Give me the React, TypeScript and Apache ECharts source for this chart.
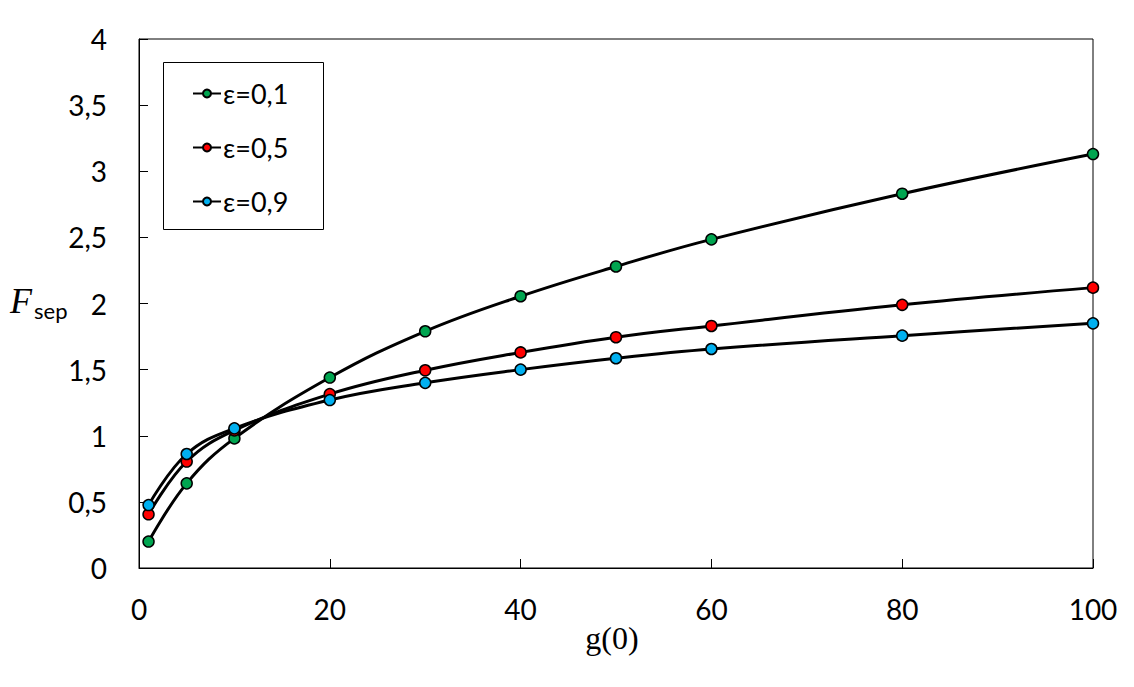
import React, { useEffect, useRef } from "react";
import * as echarts from "echarts";

const gValues = [1, 5, 10, 20, 30, 40, 50, 60, 80, 100];
const eps01 = [0.2, 0.64, 0.98, 1.44, 1.79, 2.055, 2.28, 2.485, 2.83, 3.13];
const eps05 = [0.406, 0.805, 1.04, 1.315, 1.495, 1.63, 1.745, 1.83, 1.99, 2.12];
const eps09 = [0.476, 0.862, 1.056, 1.27, 1.40, 1.50, 1.586, 1.656, 1.757, 1.85];
const seriesNames = ["ε=0,1", "ε=0,5", "ε=0,9"];
const markerColors = ["#00A550", "#FF0000", "#00B0F0"];

const FONT = "Lato, 'Open Sans', sans-serif";

export default function App() {
  const ref = useRef<HTMLDivElement>(null);
  useEffect(() => {
    document.body.style.margin = "0";
    if (!ref.current) return;
    const chart = echarts.init(ref.current, null, { renderer: "svg" });
    const all = [eps01, eps05, eps09];
    const series = all.map((vals, i) => ({
      name: seriesNames[i],
      type: "line",
      data: gValues.map((g, j) => [g, vals[j]]),
      smooth: 0.4,
      symbol: "circle",
      symbolSize: 11,
      lineStyle: { color: "#000", width: 3 },
      itemStyle: { color: markerColors[i], borderColor: "#000", borderWidth: 1.5 },
      z: 3,
    }));
    chart.setOption({
      animation: false,
      backgroundColor: "#fff",
      grid: {
        left: 139,
        right: 41,
        top: 39,
        bottom: 119,
        show: true,
        borderColor: "#000",
        borderWidth: 1,
      },
      xAxis: {
        type: "value",
        min: 0,
        max: 100,
        interval: 20,
        axisLine: { show: true, onZero: false, lineStyle: { color: "#000", width: 1 } },
        axisTick: { show: true, inside: true, length: 9, lineStyle: { color: "#000" } },
        splitLine: { show: false },
        axisLabel: { color: "#000", fontSize: 28, fontFamily: FONT, margin: 27 },
      },
      yAxis: {
        type: "value",
        min: 0,
        max: 4,
        interval: 0.5,
        axisLine: { show: true, lineStyle: { color: "#000", width: 1 } },
        axisTick: { show: true, inside: true, length: 9, lineStyle: { color: "#000" } },
        splitLine: { show: false },
        axisLabel: {
          color: "#000",
          fontSize: 28,
          fontFamily: FONT,
          margin: 32,
          formatter: (v: number) => String(v).replace(".", ","),
        },
      },
      legend: {
        orient: "vertical",
        left: 192,
        top: 80,
        padding: 0,
        itemWidth: 28,
        itemHeight: 10,
        itemGap: 27,
        textStyle: { color: "#000", fontSize: 27, fontFamily: FONT, lineHeight: 26, padding: [0, 0, 0, -3] },
        data: seriesNames,
        z: 10,
      },
      graphic: [
        {
          type: "rect",
          shape: { x: 163.5, y: 62.5, width: 160, height: 167 },
          style: { fill: "#fff", stroke: "#000", lineWidth: 1 },
          z: 5,
        },
        {
          type: "text",
          x: 10,
          y: 283,
          style: {
            text: "F",
            font: "italic 36px 'Liberation Serif', serif",
            fill: "#000",
          },
          z: 10,
        },
        {
          type: "text",
          x: 34,
          y: 299,
          style: {
            text: "sep",
            font: "22px " + FONT,
            fill: "#000",
          },
          z: 10,
        },
        {
          type: "text",
          x: 612,
          y: 622,
          style: {
            text: "g(0)",
            font: "32px 'Liberation Serif', serif",
            fill: "#000",
            align: "center",
          },
          z: 10,
        },
      ],
      series,
    });
    return () => chart.dispose();
  }, []);
  return <div ref={ref} style={{ width: 1134, height: 687 }} />;
}
